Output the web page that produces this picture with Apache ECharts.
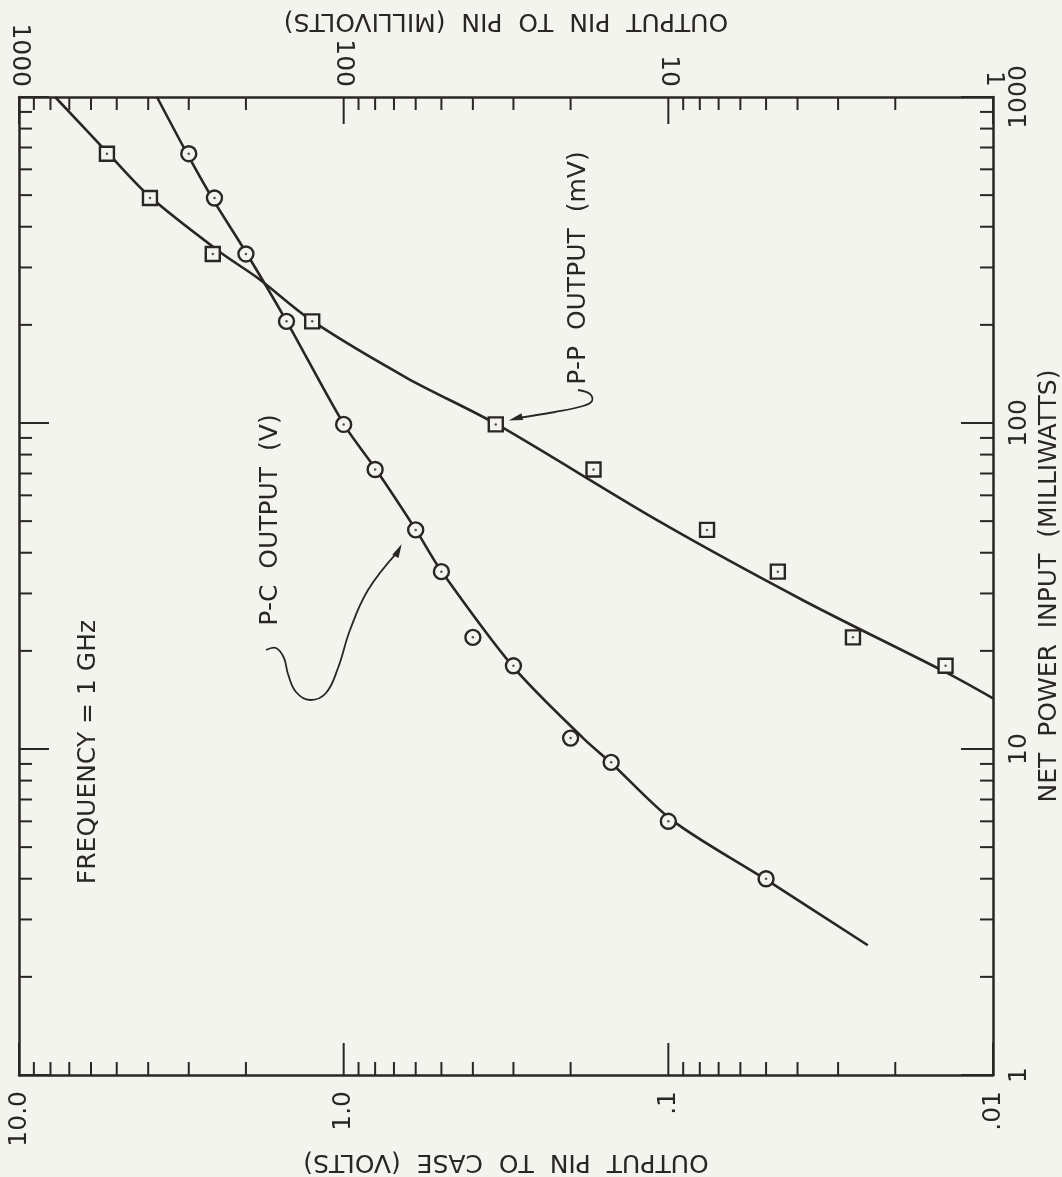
<!DOCTYPE html>
<html>
<head>
<meta charset="utf-8">
<script src="https://cdn.jsdelivr.net/npm/echarts@6.0.0/dist/echarts.min.js"></script>
<style>
  html, body { margin: 0; padding: 0; background: #f4f4ee; }
  #chart { width: 1062px; height: 1177px; }
</style>
</head>
<body>
<div id="chart"></div>
<script>
"use strict";
// 测量点 (P-C 输出, 伏特)
var pcVolts = [3.0, 2.5, 2.0, 1.5, 1.0, 0.8, 0.6, 0.5, 0.4, 0.3, 0.2, 0.15, 0.1, 0.05];
var pcPower = [670, 490, 330, 205, 99, 72, 47, 35, 22, 18, 10.8, 9.1, 6.0, 4.0];
// 测量点 (P-P 输出, 毫伏)
var ppMillivolts = [536, 395, 253, 125, 34, 17, 7.6, 4.6, 2.7, 1.4];
var ppPower = [670, 490, 330, 205, 99, 72, 47, 35, 22, 18];

// 拟合曲线
var pcFitVolts = [3.76, 3.02, 2.53, 1.985, 1.494, 0.998, 0.795, 0.599, 0.501, 0.301, 0.183, 0.150, 0.0968, 0.0497, 0.0243];
var pcFitPower = [1000, 664, 486, 330, 204, 99, 72, 47, 35.2, 17.9, 10.8, 9.06, 6.02, 3.96, 2.5];
var ppFitMillivolts = [774, 536, 395, 240, 183.5, 125, 63.8, 33.9, 10.6, 3.85, 1.40, 1.0];
var ppFitPower = [1000, 678, 494, 334, 278, 205.6, 137.4, 99.3, 49.7, 28.6, 17.2, 14.3];

// 刻度
var voltDecades = [0.01, 0.1, 1, 10];
var millivoltDecades = [1, 10, 100, 1000];
var powerDecades = [1, 10, 100, 1000];
var minorSteps = [2, 3, 4, 5, 6, 7, 8, 9];
var voltTickLabels = ['.01', '.1', '1.0', '10.0'];
var millivoltTickLabels = ['1', '10', '100', '1000'];
var powerTickLabels = ['1', '10', '100', '1000'];

var INK = '#2b2626';
var BG = '#f4f4ee';
var FONT = 'DejaVu Sans';

function zip(a, b){
    var out = [];
    for(var i=0;i<a.length;i++) out.push([a[i], b[i]]);
    return out;
}

// 刻度数据: [x, y, 边, 长度]  边: 0下 1上 2右 3左
function buildTicks(decades, side, major, minor, isX){
    var out = [];
    for(var i=0;i<decades.length;i++){
        var d = decades[i];
        out.push(isX ? [d, 10, side, major] : [1, d, side, major]);
        if(i == decades.length-1) continue;
        for(var j=0;j<minorSteps.length;j++){
            var v = d*minorSteps[j];
            out.push(isX ? [v, 10, side, minor] : [1, v, side, minor]);
        }
    }
    return out;
}
var bottomTicks = buildTicks(voltDecades, 0, 32, 13, true)
    .concat(buildTicks(powerDecades, 2, 32, 13, false))
    .concat(buildTicks(powerDecades, 3, 30, 13, false));
var topTicks = buildTicks(millivoltDecades, 1, 27, 13, true);

function renderTick(params, api){
    var cs = params.coordSys;
    var side = api.value(2), len = api.value(3);
    var p = api.coord([api.value(0), api.value(1)]);
    var shape;
    if(side == 0) shape = {x1:p[0], y1:cs.y+cs.height, x2:p[0], y2:cs.y+cs.height-len};
    else if(side == 1) shape = {x1:p[0], y1:cs.y, x2:p[0], y2:cs.y+len};
    else if(side == 2) shape = {x1:cs.x+cs.width, y1:p[1], x2:cs.x+cs.width-len, y2:p[1]};
    else shape = {x1:cs.x, y1:p[1], x2:cs.x+len, y2:p[1]};
    return {type:'line', shape:shape, style:{stroke:INK, lineWidth:2}};
}

function expIndex(v){ return Math.round(Math.log(v)/Math.LN10); }

var axisLineStyle = {show:true, lineStyle:{color:INK, width:2.5}};
var nameStyle = {fontFamily:FONT, fontSize:25, color:INK};

var myChart = echarts.init(document.getElementById('chart'));
var option = {
    backgroundColor: BG,
    animation: false,
    grid: {left:19, right:69, top:97, bottom:102, containLabel:false, outerBoundsMode:'none'},
    xAxis: [
        {
            type:'log', logBase:10, min:0.01, max:10, inverse:true, position:'bottom',
            name:'OUTPUT  PIN  TO  CASE  (VOLTS)', nameLocation:'middle', nameGap:74, nameRotate:180,
            nameMoveOverlap:false, nameTextStyle:nameStyle,
            axisLine:axisLineStyle, axisTick:{show:false}, splitLine:{show:false},
            axisLabel:{show:true, rotate:90, margin:16, fontFamily:FONT, fontSize:25, color:INK,
                formatter:function(v){ return voltTickLabels[expIndex(v)+2]; }}
        },
        {
            type:'log', logBase:10, min:1, max:1000, inverse:true, position:'top',
            name:'OUTPUT  PIN  TO  PIN  (MILLIVOLTS)', nameLocation:'middle', nameGap:64, nameRotate:180,
            nameMoveOverlap:false, nameTextStyle:nameStyle,
            axisLine:axisLineStyle, axisTick:{show:false}, splitLine:{show:false},
            axisLabel:{show:true, rotate:90, margin:10, fontFamily:FONT, fontSize:25, color:INK,
                formatter:function(v){ return millivoltTickLabels[expIndex(v)]; }}
        }
    ],
    yAxis: [
        {
            type:'log', logBase:10, min:1, max:1000, position:'right',
            name:'NET  POWER  INPUT  (MILLIWATTS)', nameLocation:'middle', nameGap:44, nameRotate:90,
            nameMoveOverlap:false, nameTextStyle:nameStyle,
            axisLine:axisLineStyle, axisTick:{show:false}, splitLine:{show:false},
            axisLabel:{show:true, rotate:90, margin:14, fontFamily:FONT, fontSize:25, color:INK,
                formatter:function(v){ return powerTickLabels[expIndex(v)]; }}
        },
        {
            type:'log', logBase:10, min:1, max:1000, position:'left',
            axisLine:axisLineStyle, axisTick:{show:false}, splitLine:{show:false},
            axisLabel:{show:false}
        }
    ],
    series: [
        {
            name:'P-C fit', type:'line', xAxisIndex:0, yAxisIndex:0,
            data:zip(pcFitVolts, pcFitPower), showSymbol:false, smooth:0.3,
            lineStyle:{color:INK, width:2.6}, silent:true, z:2
        },
        {
            name:'P-P fit', type:'line', xAxisIndex:1, yAxisIndex:0,
            data:zip(ppFitMillivolts, ppFitPower), showSymbol:false, smooth:0.3,
            lineStyle:{color:INK, width:2.6}, silent:true, z:2
        },
        {
            name:'P-C', type:'scatter', xAxisIndex:0, yAxisIndex:0,
            data:zip(pcVolts, pcPower), symbol:'circle', symbolSize:15,
            itemStyle:{color:BG, borderColor:INK, borderWidth:2.4, opacity:1}, z:3
        },
        {
            name:'P-C dot', type:'scatter', xAxisIndex:0, yAxisIndex:0,
            data:zip(pcVolts, pcPower), symbol:'circle', symbolSize:2.5,
            itemStyle:{color:INK}, z:4, silent:true
        },
        {
            name:'P-P', type:'scatter', xAxisIndex:1, yAxisIndex:0,
            data:zip(ppMillivolts, ppPower), symbol:'rect', symbolSize:14,
            itemStyle:{color:BG, borderColor:INK, borderWidth:2.4, opacity:1}, z:3
        },
        {
            name:'P-P dot', type:'scatter', xAxisIndex:1, yAxisIndex:0,
            data:zip(ppMillivolts, ppPower), symbol:'circle', symbolSize:2.5,
            itemStyle:{color:INK}, z:4, silent:true
        },
        {
            type:'custom', xAxisIndex:0, yAxisIndex:0, data:bottomTicks,
            renderItem:renderTick, silent:true, clip:false, z:5
        },
        {
            type:'custom', xAxisIndex:1, yAxisIndex:0, data:topTicks,
            renderItem:renderTick, silent:true, clip:false, z:5
        }
    ]
};
myChart.setOption(option, true);

// 注释 (文字与引线)
var ppAnchor = myChart.convertToPixel({xAxisIndex:1, yAxisIndex:0}, [ppMillivolts[4], ppPower[4]]);
var pcAnchor = myChart.convertToPixel({xAxisIndex:0, yAxisIndex:0}, [pcVolts[6], pcPower[6]]);
var textStyle = {fill:INK, font:'25px "DejaVu Sans"', align:'center', verticalAlign:'middle'};

function arrowHead(tip, from){
    var dx = tip[0]-from[0], dy = tip[1]-from[1];
    var l = Math.sqrt(dx*dx+dy*dy); dx/=l; dy/=l;
    var bx = tip[0]-dx*14, by = tip[1]-dy*14;
    return {type:'polygon', shape:{points:[tip, [bx-dy*3.5, by+dx*3.5], [bx+dy*3.5, by-dx*3.5]]},
        style:{fill:INK}, z:10};
}

var ppTip = [ppAnchor[0]+13, ppAnchor[1]-4];
var pcTip = [pcAnchor[0]-14, pcAnchor[1]+14];
myChart.setOption({
    graphic: [
        {type:'text', x:578, y:268, rotation:Math.PI/2, style:Object.assign({text:'P-P  OUTPUT  (mV)'}, textStyle), z:10},
        {type:'text', x:270, y:520, rotation:Math.PI/2, style:Object.assign({text:'P-C  OUTPUT  (V)'}, textStyle), z:10},
        {type:'text', x:88, y:752, rotation:Math.PI/2, style:Object.assign({text:'FREQUENCY = 1 GHz'}, textStyle), z:10},
        {type:'polyline', shape:{smooth:0.4, points:[[578,390],[590,394],[592,401],[583,406],[555,412],[ppTip[0]+6, ppTip[1]-2]]},
            style:{stroke:INK, lineWidth:1.8, fill:null}, z:10},
        arrowHead(ppTip, [ppTip[0]+18, ppTip[1]-5]),
        {type:'polyline', shape:{smooth:0.4, points:[[266,650],[276,648],[284,658],[288,674],[296,692],[310,700],[326,693],[338,668],[350,630],[368,590],[pcTip[0]-4, pcTip[1]+8]]},
            style:{stroke:INK, lineWidth:1.8, fill:null}, z:10},
        arrowHead(pcTip, [pcTip[0]-8, pcTip[1]+16])
    ]
});
</script>
</body>
</html>
